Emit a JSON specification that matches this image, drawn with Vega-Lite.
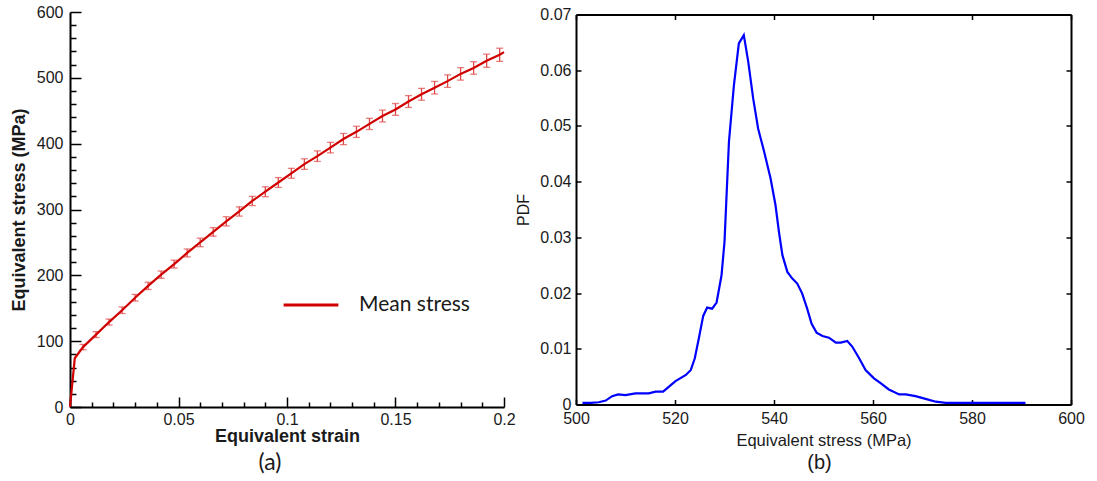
{
  "$schema": "https://vega.github.io/schema/vega-lite/v6.json",
  "background": "white",
  "padding": {"left": 10, "top": 4, "right": 0, "bottom": 0},
  "autosize": {"type": "pad"},
  "spacing": 72,
  "bounds": "flush",
  "center": true,
  "config": {
    "view": {"stroke": null},
    "axis": {
      "labelFont": "Liberation Sans",
      "labelFontSize": 16,
      "labelColor": "#1a1a1a",
      "titleColor": "#1a1a1a",
      "titleFont": "Liberation Sans",
      "domainColor": "black",
      "domainWidth": 2,
      "tickColor": "black",
      "tickWidth": 1.5,
      "grid": false,
      "labelOverlap": false,
      "labelFlush": false,
      "labelBound": false
    }
  },
  "hconcat": [
    {
      "width": 434,
      "height": 395,
      "title": {"text": "(a)", "orient": "bottom", "font": "Lato", "fontSize": 23, "fontWeight": "normal", "color": "#1a1a1a", "offset": 6, "dx": -17},
      "data": {"values": [
        {"strain": 0, "stress": 0},
        {"strain": 0.0022, "stress": 74},
        {"strain": 0.006, "stress": 91, "err": 4},
        {"strain": 0.012, "stress": 110, "err": 4.5},
        {"strain": 0.018, "stress": 129, "err": 4.5},
        {"strain": 0.024, "stress": 147, "err": 5},
        {"strain": 0.030, "stress": 166, "err": 5},
        {"strain": 0.036, "stress": 184, "err": 5.5},
        {"strain": 0.042, "stress": 201, "err": 5.5},
        {"strain": 0.048, "stress": 217, "err": 6},
        {"strain": 0.054, "stress": 234, "err": 6},
        {"strain": 0.060, "stress": 250, "err": 6.5},
        {"strain": 0.066, "stress": 266, "err": 6.5},
        {"strain": 0.072, "stress": 282, "err": 7},
        {"strain": 0.078, "stress": 297, "err": 7},
        {"strain": 0.084, "stress": 313, "err": 7},
        {"strain": 0.090, "stress": 327, "err": 7.5},
        {"strain": 0.096, "stress": 341, "err": 7.5},
        {"strain": 0.102, "stress": 355, "err": 7.5},
        {"strain": 0.108, "stress": 369, "err": 8},
        {"strain": 0.114, "stress": 381, "err": 8},
        {"strain": 0.120, "stress": 394, "err": 8},
        {"strain": 0.126, "stress": 407, "err": 8.5},
        {"strain": 0.132, "stress": 418, "err": 8.5},
        {"strain": 0.138, "stress": 430, "err": 8.5},
        {"strain": 0.144, "stress": 442, "err": 9},
        {"strain": 0.150, "stress": 452, "err": 9},
        {"strain": 0.156, "stress": 464, "err": 9},
        {"strain": 0.162, "stress": 475, "err": 9},
        {"strain": 0.168, "stress": 485, "err": 9.5},
        {"strain": 0.174, "stress": 495, "err": 9.5},
        {"strain": 0.180, "stress": 506, "err": 9.5},
        {"strain": 0.186, "stress": 515, "err": 9.5},
        {"strain": 0.192, "stress": 526, "err": 10},
        {"strain": 0.198, "stress": 535, "err": 10},
        {"strain": 0.2, "stress": 539}
      ]},
      "encoding": {
        "x": {
          "field": "strain", "type": "quantitative",
          "scale": {"domain": [0, 0.2], "nice": false, "zero": false},
          "axis": {
            "title": "Equivalent strain",
            "titleFontWeight": "bold",
            "titleFontSize": 18,
            "titlePadding": -5,
            "values": [0, 0.01, 0.02, 0.03, 0.04, 0.05, 0.06, 0.07, 0.08, 0.09, 0.1, 0.11, 0.12, 0.13, 0.14, 0.15, 0.16, 0.17, 0.18, 0.19, 0.2],
            "labelExpr": "round(datum.value * 100) % 5 == 0 ? format(datum.value, '.2~f') : ''",
            "tickSize": {"condition": {"test": "round(datum.value * 100) % 5 == 0", "value": -10}, "value": -5},
            "labelPadding": 14.5
          }
        },
        "y": {
          "field": "stress", "type": "quantitative",
          "scale": {"domain": [0, 600], "nice": false},
          "axis": {
            "title": "Equivalent stress (MPa)",
            "titleFontWeight": "bold",
            "titleFontSize": 18,
            "titlePadding": 8,
            "values": [0, 20, 40, 60, 80, 100, 120, 140, 160, 180, 200, 220, 240, 260, 280, 300, 320, 340, 360, 380, 400, 420, 440, 460, 480, 500, 520, 540, 560, 580, 600],
            "labelExpr": "datum.value % 100 == 0 ? datum.label : ''",
            "tickSize": {"condition": {"test": "datum.value % 100 == 0", "value": -11}, "value": -6},
            "labelPadding": 18
          }
        }
      },
      "layer": [
        {
          "transform": [{"filter": "isValid(datum.err)"}],
          "mark": {"type": "errorbar", "color": "#e04848", "ticks": {"size": 7}, "thickness": 1.3},
          "encoding": {"yError": {"field": "err"}}
        },
        {
          "mark": {"type": "line", "strokeWidth": 2.2},
          "encoding": {
            "color": {
              "datum": "Mean stress", "type": "nominal",
              "scale": {"range": ["#d00000"]},
              "legend": {
                "orient": "none", "legendX": 212, "legendY": 264, "title": null,
                "symbolType": "stroke", "symbolSize": 3000, "symbolStrokeWidth": 3,
                "labelFont": "Lato", "labelFontSize": 21, "labelColor": "#1a1a1a",
                "labelOffset": 19, "padding": 0
              }
            }
          }
        }
      ]
    },
    {
      "width": 495,
      "height": 390,
      "title": {"text": "(b)", "orient": "bottom", "font": "Liberation Sans", "fontSize": 20, "fontWeight": "normal", "color": "#1a1a1a", "offset": 4, "dx": -4},
      "data": {"values": [
        {"stress": 501.3, "pdf": 0.0003},
        {"stress": 503.0, "pdf": 0.0003},
        {"stress": 504.6, "pdf": 0.0004},
        {"stress": 506.0, "pdf": 0.0007},
        {"stress": 507.3, "pdf": 0.0015},
        {"stress": 508.5, "pdf": 0.0018},
        {"stress": 510.0, "pdf": 0.0017},
        {"stress": 512.0, "pdf": 0.002},
        {"stress": 514.7, "pdf": 0.002},
        {"stress": 516.1, "pdf": 0.0023},
        {"stress": 517.6, "pdf": 0.0023},
        {"stress": 520.1, "pdf": 0.0042},
        {"stress": 522.2, "pdf": 0.0053},
        {"stress": 523.2, "pdf": 0.0062},
        {"stress": 524.0, "pdf": 0.0083},
        {"stress": 524.8, "pdf": 0.0118},
        {"stress": 525.7, "pdf": 0.0159},
        {"stress": 526.5, "pdf": 0.0174},
        {"stress": 527.5, "pdf": 0.0172},
        {"stress": 528.4, "pdf": 0.0183},
        {"stress": 529.4, "pdf": 0.0232},
        {"stress": 530.0, "pdf": 0.0292},
        {"stress": 530.9, "pdf": 0.0472},
        {"stress": 531.9, "pdf": 0.0573},
        {"stress": 532.9, "pdf": 0.0648},
        {"stress": 533.9, "pdf": 0.0663},
        {"stress": 534.8, "pdf": 0.0615},
        {"stress": 535.8, "pdf": 0.0549},
        {"stress": 536.8, "pdf": 0.0495},
        {"stress": 538.0, "pdf": 0.0454},
        {"stress": 539.3, "pdf": 0.0406},
        {"stress": 540.3, "pdf": 0.0358},
        {"stress": 541.0, "pdf": 0.031},
        {"stress": 541.7, "pdf": 0.0268},
        {"stress": 542.7, "pdf": 0.0238},
        {"stress": 543.7, "pdf": 0.0226},
        {"stress": 544.7, "pdf": 0.0217},
        {"stress": 545.7, "pdf": 0.0199},
        {"stress": 546.7, "pdf": 0.0172},
        {"stress": 547.6, "pdf": 0.0145},
        {"stress": 548.6, "pdf": 0.0129},
        {"stress": 549.8, "pdf": 0.0123},
        {"stress": 551.1, "pdf": 0.012},
        {"stress": 552.5, "pdf": 0.0111},
        {"stress": 553.5, "pdf": 0.0111},
        {"stress": 554.8, "pdf": 0.0114},
        {"stress": 555.8, "pdf": 0.0104},
        {"stress": 557.2, "pdf": 0.0083},
        {"stress": 558.5, "pdf": 0.0062},
        {"stress": 560.2, "pdf": 0.0047},
        {"stress": 561.6, "pdf": 0.0038},
        {"stress": 563.2, "pdf": 0.0027},
        {"stress": 565.3, "pdf": 0.0018},
        {"stress": 566.6, "pdf": 0.0018},
        {"stress": 568.6, "pdf": 0.0015},
        {"stress": 570.6, "pdf": 0.001},
        {"stress": 572.7, "pdf": 0.0005},
        {"stress": 574.7, "pdf": 0.0003},
        {"stress": 590.8, "pdf": 0.0003}
      ]},
      "resolve": {"axis": {"x": "independent", "y": "independent"}},
      "layer": [
        {
          "mark": {"type": "line", "color": "#0000ff", "strokeWidth": 2.2},
          "encoding": {
            "x": {
              "field": "stress", "type": "quantitative",
              "scale": {"domain": [500, 600], "nice": false, "zero": false},
              "axis": {
                "orient": "bottom",
                "title": "Equivalent stress (MPa)",
                "titleFontWeight": "normal",
                "titleFontSize": 16.5,
                "titlePadding": 6,
                "values": [500, 520, 540, 560, 580, 600],
                "tickSize": -5,
                "labelPadding": 10.5
              }
            },
            "y": {
              "field": "pdf", "type": "quantitative",
              "scale": {"domain": [0, 0.07], "nice": false},
              "axis": {
                "orient": "left",
                "title": "PDF",
                "titleFontWeight": "normal",
                "titleFontSize": 16,
                "titlePadding": 8,
                "values": [0, 0.01, 0.02, 0.03, 0.04, 0.05, 0.06, 0.07],
                "labelExpr": "format(datum.value, '.2~f')",
                "tickSize": -5,
                "labelPadding": 10
              }
            }
          }
        },
        {
          "mark": {"type": "line", "opacity": 0},
          "encoding": {
            "x": {
              "field": "stress", "type": "quantitative",
              "axis": {"orient": "top", "title": null, "labels": false, "values": [500, 520, 540, 560, 580, 600], "tickSize": -5}
            },
            "y": {
              "field": "pdf", "type": "quantitative",
              "axis": {"orient": "right", "title": null, "labels": false, "values": [0, 0.01, 0.02, 0.03, 0.04, 0.05, 0.06, 0.07], "tickSize": -5}
            }
          }
        }
      ]
    }
  ]
}
